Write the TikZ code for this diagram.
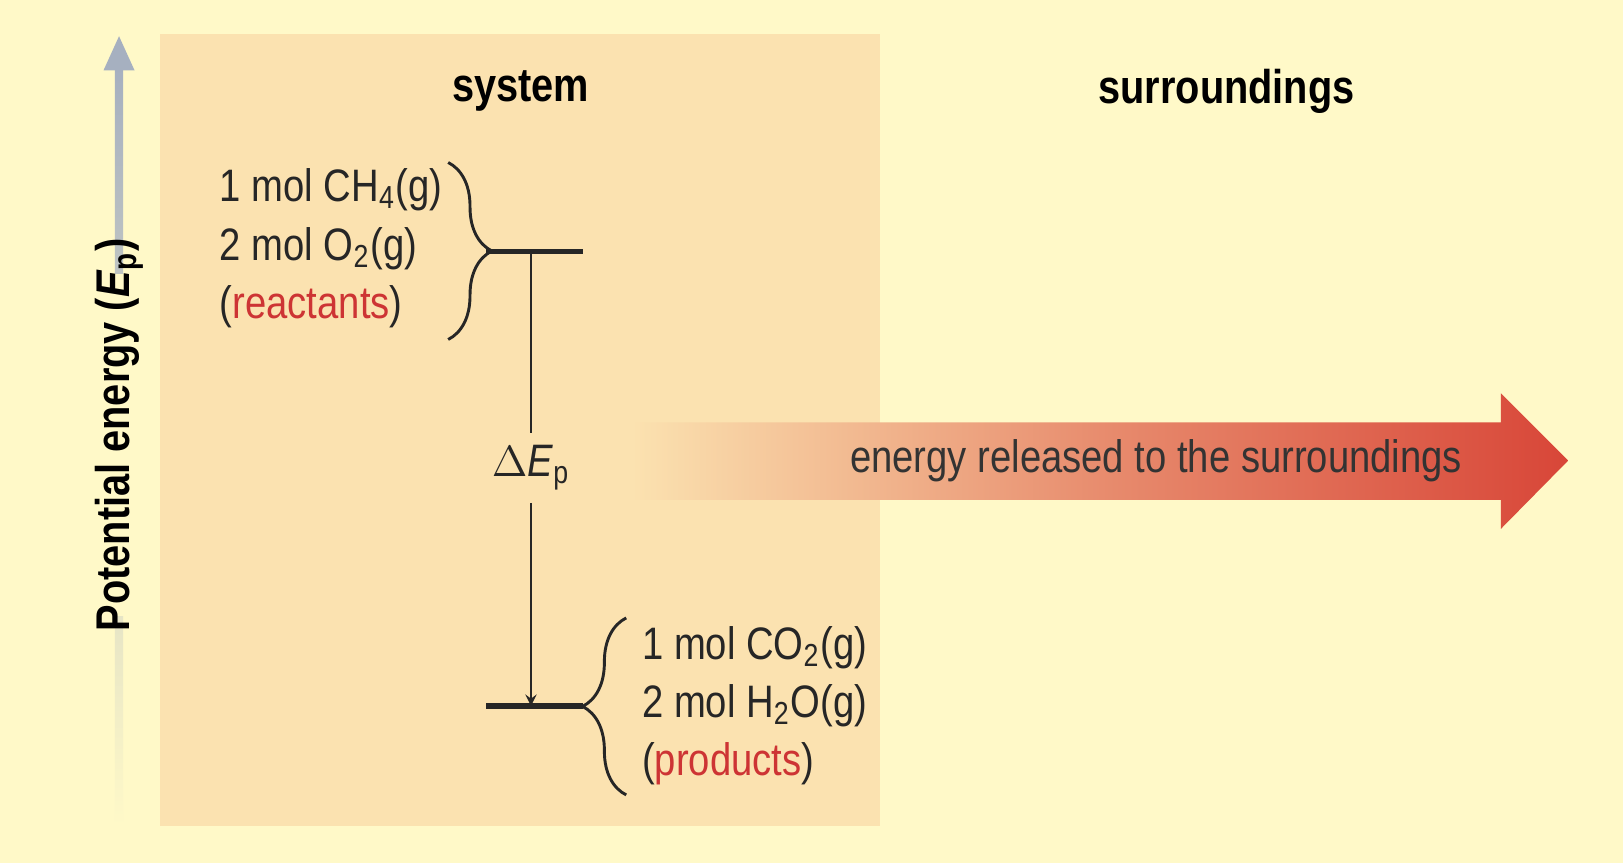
\documentclass[tikz,border=0pt]{standalone}
\usepackage{fontspec}
\setmainfont{Liberation Sans}[FakeStretch=0.84]
\usepackage{tikz}
\usetikzlibrary{calc,decorations.pathreplacing}
\definecolor{bgYellow}{RGB}{255,249,200}
\definecolor{sysPeach}{RGB}{251,226,176}
\definecolor{axisGray}{RGB}{166,176,192}
\definecolor{heatRed}{RGB}{216,70,56}
\definecolor{labelRed}{RGB}{205,52,52}
\tikzstyle{tsBold} = [
    text=black,
    font=\bfseries\fontsize{13}{15}\selectfont
]
\tikzstyle{tsText} = [
    text=black!85,
    font=\fontsize{12.5}{14}\selectfont,
    align=left
]
\tikzstyle{tsLevel} = [
    line width=0.5mm,
    black!85]
\tikzstyle{tsBrace} = [
    black!85, thick,
    decorate,
    decoration={brace, amplitude=12pt}]

\begin{document}
\begin{tikzpicture}[x=0.01cm, y=-0.01cm]

        \fill[bgYellow] (0,0) rectangle (1568,834);
        \useasboundingbox (0,0) rectangle (1568,834);
        \fill[sysPeach] (155,33) rectangle (850,798);

        % vertical axis
        \shade[top color=axisGray, bottom color=bgYellow]
            (111,65) rectangle (119,798);
        \fill[axisGray] (100,68) -- (115,35) -- (130,68) -- cycle;
        \fill[bgYellow] (100,265) rectangle (130,595);
        \node[tsBold, rotate=90] (axis) at (115,420) {Potential energy (\textit{E}\textsubscript{p})};

        \node[tsBold] (system) at (503,88) {system};
        \node[tsBold] (surr) at (1185,88) {surroundings};

        % energy arrow
        \shade[left color=sysPeach, right color=heatRed, middle color=heatRed!55!sysPeach]
            (610,408) -- (1450,408) -- (1450,380) -- (1515,445) -- (1450,511)
            -- (1450,483) -- (610,483) -- cycle;
        \node[tsText, text=black!80] (released) at (1117,445) {energy released to the surroundings};

        % levels
        \coordinate (rL) at (470,243);
        \coordinate (rR) at (563,243);
        \coordinate (pL) at (470,682);
        \coordinate (pR) at (563,682);
        \draw[tsLevel] (rL) -- (rR);
        \draw[tsLevel] (pL) -- (pR);
        \coordinate (top) at (513,243);
        \coordinate (bot) at (513,682);
        \node[tsText] (dE) at (513,452) {$\Delta$\textit{E}\textsubscript{p}};
        \draw[black!85] (top) -- (dE.north);
        \draw[black!85, ->, >=stealth] (dE.south) -- (bot);

        % reactants
        \node[tsText, anchor=west] (react) at (200,240)
            {1 mol CH\textsubscript{4}(g)\\[2pt] 2 mol O\textsubscript{2}(g)\\[2pt] (\textcolor{labelRed}{reactants})};
        \draw[tsBrace] (433,157) -- (433,328);

        % products
        \node[tsText, anchor=west] (prod) at (608,682)
            {1 mol CO\textsubscript{2}(g)\\[2pt] 2 mol H\textsubscript{2}O(g)\\[2pt] (\textcolor{labelRed}{products})};
        \draw[tsBrace] (605,768) -- (605,597);

\end{tikzpicture}
\end{document}
